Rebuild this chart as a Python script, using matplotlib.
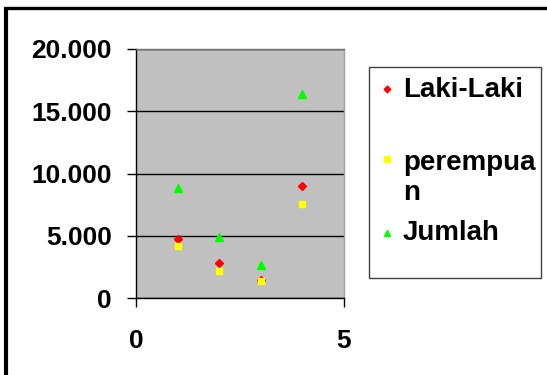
import matplotlib
matplotlib.use("Agg")
import matplotlib.pyplot as plt
from matplotlib.lines import Line2D
from matplotlib.patches import Rectangle
from matplotlib.ticker import FuncFormatter

plt.rcParams['font.family'] = ['Liberation Sans', 'DejaVu Sans']
plt.rcParams['font.weight'] = 'bold'

# Data
x_vals = [1, 2, 3, 4]
laki_laki = [4700, 2800, 1450, 9000]
perempuan = [4150, 2200, 1350, 7550]
jumlah = [8800, 4900, 2650, 16400]
series_labels = ['Laki-Laki', 'perempua\nn', 'Jumlah']
y_ticks = [0, 5000, 10000, 15000, 20000]
x_ticks = [0, 5]

W, H = 547, 375
fig = plt.figure(figsize=(W / 100, H / 100), dpi=100)
fig.patch.set_facecolor('white')

def fx(px):
    return px / W

def fy(py):
    return 1 - py / H

ax = fig.add_axes([fx(136), fy(298), fx(344) - fx(136), fy(49) - fy(298)])
ax.set_facecolor('#C0C0C0')
ax.set_xlim(0, 5)
ax.set_ylim(0, 20000)
ax.set_xticks(x_ticks)
ax.set_yticks(y_ticks)
ax.yaxis.set_major_formatter(FuncFormatter(lambda v, p: f"{int(v):,}".replace(',', '.')))
ax.grid(axis='y', color='black', linewidth=1.0)
ax.set_axisbelow(True)
ax.tick_params(axis='both', labelsize=19, length=6.5, width=1, color='black', direction='out')
ax.tick_params(axis='y', pad=11)
ax.tick_params(axis='x', pad=16)
for lab in ax.get_xticklabels() + ax.get_yticklabels():
    lab.set_fontweight('bold')
ax.spines['left'].set_color('black')
ax.spines['bottom'].set_color('black')
ax.spines['top'].set_color('#707070')
ax.spines['right'].set_color('#A0A0A0')
for s in ax.spines.values():
    s.set_linewidth(1.0)

ax.plot(x_vals, laki_laki, linestyle='none', marker='D', color='#FF0000', markersize=4.2, zorder=3)
ax.plot(x_vals, perempuan, linestyle='none', marker='s', color='#FFFF00', markersize=4.8, zorder=4)
ax.plot(x_vals, jumlah, linestyle='none', marker='^', color='#00FF00', markersize=6.0, zorder=5)

# Legend (manual, to match original layout)
fig.patches.append(Rectangle((fx(369), fy(278)), fx(541) - fx(369), fy(67) - fy(278),
                             transform=fig.transFigure, facecolor='white',
                             edgecolor='#404040', linewidth=1.0, zorder=1))
fig.lines.append(Line2D([fx(387)], [fy(89)], transform=fig.transFigure, linestyle='none',
                        marker='D', color='#FF0000', markersize=3.4, zorder=2))
fig.lines.append(Line2D([fx(387)], [fy(159)], transform=fig.transFigure, linestyle='none',
                        marker='s', color='#FFFF00', markersize=4, zorder=2))
fig.lines.append(Line2D([fx(387)], [fy(233)], transform=fig.transFigure, linestyle='none',
                        marker='^', color='#00FF00', markersize=5, zorder=2))
lab_parts = series_labels[1].split('\n')
fig.text(fx(403), fy(96.5), series_labels[0], fontsize=20, fontweight='bold', va='baseline', ha='left')
fig.text(fx(403), fy(170), lab_parts[0], fontsize=20, fontweight='bold', va='baseline', ha='left')
fig.text(fx(403), fy(200), lab_parts[1], fontsize=20, fontweight='bold', va='baseline', ha='left')
fig.text(fx(403), fy(240), series_labels[2], fontsize=20, fontweight='bold', va='baseline', ha='left')

# Outer border (top and left only visible)
fig.lines.append(Line2D([fx(4), fx(547)], [fy(8), fy(8)], transform=fig.transFigure,
                        color='black', linewidth=2.4, solid_capstyle='butt'))
fig.lines.append(Line2D([fx(6), fx(6)], [fy(7), fy(375)], transform=fig.transFigure,
                        color='black', linewidth=3.0, solid_capstyle='butt'))

fig.savefig('out.png', dpi=100)
